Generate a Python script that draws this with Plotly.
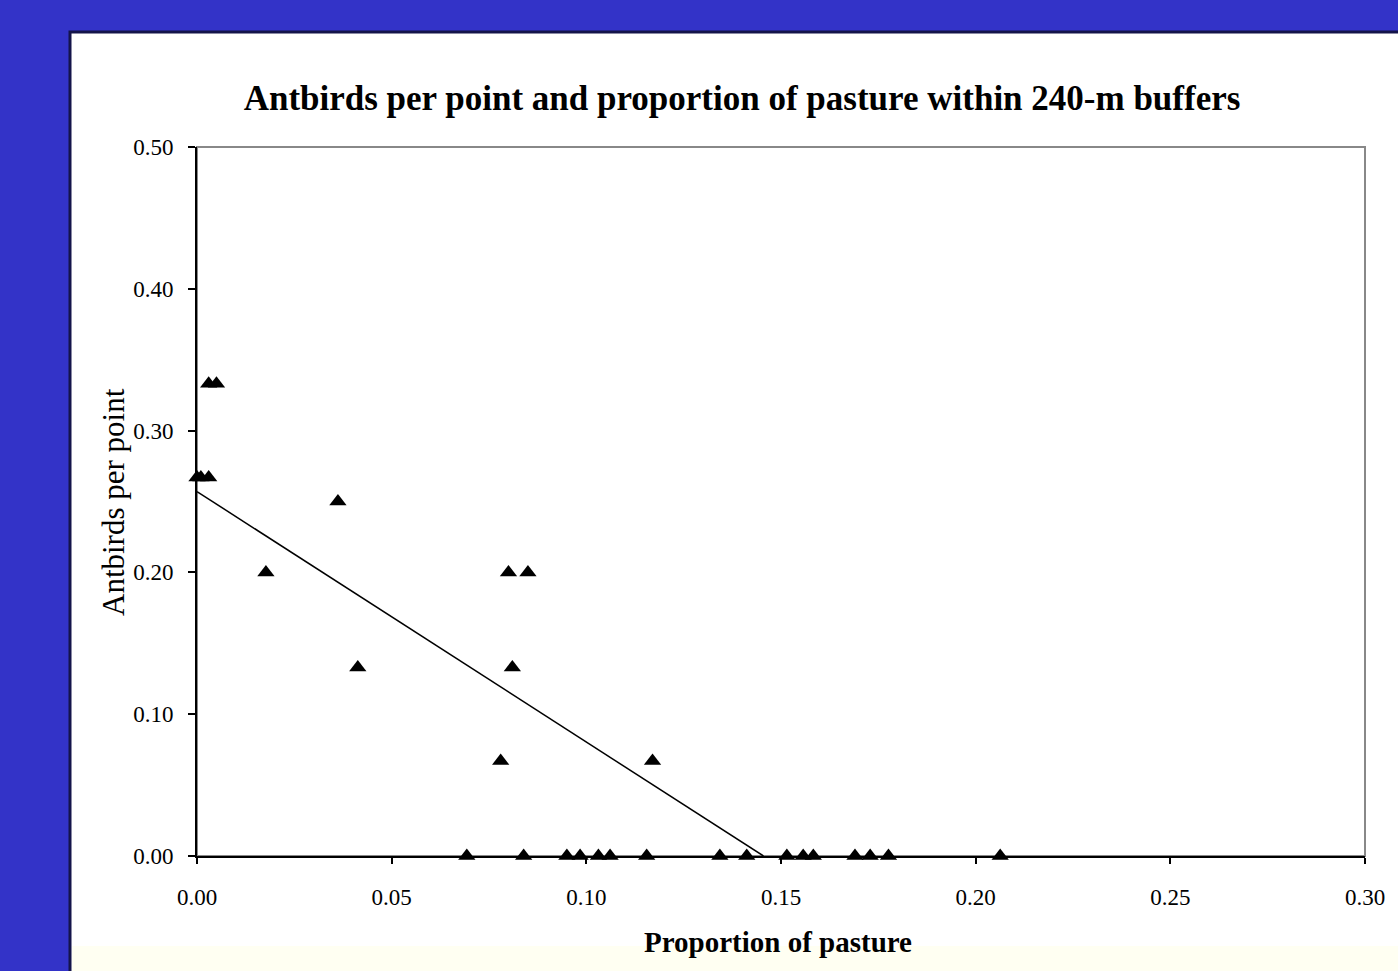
import plotly.graph_objects as go

# Data
x_vals = [0.000, 0.001, 0.003, 0.003, 0.005, 0.0177, 0.0362, 0.0413, 0.078, 0.080, 0.081, 0.085, 0.117,
          0.0693, 0.0839, 0.0950, 0.0984, 0.1031, 0.1061, 0.1155, 0.1343, 0.1412, 0.1515, 0.1557, 0.1583,
          0.1690, 0.1729, 0.1776, 0.2063]
y_vals = [0.267, 0.267, 0.267, 0.333, 0.333, 0.200, 0.250, 0.133, 0.067, 0.200, 0.133, 0.200, 0.067,
          0.0, 0.0, 0.0, 0.0, 0.0, 0.0, 0.0, 0.0, 0.0, 0.0, 0.0, 0.0,
          0.0, 0.0, 0.0, 0.0]
trend_x = [0.0, 0.1455]
trend_y = [0.257, 0.0]
x_ticks = [0.00, 0.05, 0.10, 0.15, 0.20, 0.25, 0.30]
y_ticks = [0.00, 0.10, 0.20, 0.30, 0.40, 0.50]

W, H = 1398, 971
ml, mr, mt, mb = 197, 33, 147, 115
pw, ph = W - ml - mr, H - mt - mb

def px2paper_x(px):
    return (px - ml) / pw

def px2paper_y(py):
    return (H - mb - py) / ph

serif = "Liberation Serif"
BLUE = "#3333c8"

fig = go.Figure()
fig.add_trace(go.Scatter(x=trend_x, y=trend_y, mode="lines",
                         line=dict(color="black", width=1.5), showlegend=False, hoverinfo="skip"))
fig.add_trace(go.Scatter(x=x_vals, y=y_vals, mode="markers",
                         marker=dict(symbol="triangle-up", size=15, color="black"),
                         showlegend=False, cliponaxis=False))

shapes = [
    # white panel
    dict(type="rect", xref="paper", yref="paper", layer="below",
         x0=px2paper_x(70), x1=px2paper_x(1410), y0=px2paper_y(990), y1=px2paper_y(32),
         fillcolor="white", line=dict(color="#14144a", width=3)),
    # light strip at bottom
    dict(type="rect", xref="paper", yref="paper", layer="below",
         x0=px2paper_x(72), x1=px2paper_x(1410), y0=px2paper_y(990), y1=px2paper_y(946),
         fillcolor="#fffff2", line=dict(width=0)),
    # gray plot border
    dict(type="rect", xref="paper", yref="paper", layer="below",
         x0=0, x1=1, y0=0, y1=1, fillcolor="rgba(0,0,0,0)", line=dict(color="#888888", width=2)),
]

annotations = [
    dict(text="<b>Proportion of pasture</b>", xref="paper", yref="paper",
         x=px2paper_x(778), y=px2paper_y(942), xanchor="center", yanchor="middle",
         showarrow=False, font=dict(family=serif, size=29, color="black")),
    dict(text="Antbirds per point", xref="paper", yref="paper", textangle=-90,
         x=px2paper_x(113), y=px2paper_y(502), xanchor="center", yanchor="middle",
         showarrow=False, font=dict(family=serif, size=31, color="black")),
]

fig.update_layout(
    width=W, height=H,
    margin=dict(l=ml, r=mr, t=mt, b=mb),
    paper_bgcolor=BLUE,
    plot_bgcolor="rgba(0,0,0,0)",
    shapes=shapes,
    annotations=annotations,
    title=dict(text="<b>Antbirds per point and proportion of pasture within 240-m buffers</b>",
               x=px2paper_x(742), xref="paper", xanchor="center",
               y=1 - 98 / H, yref="container", yanchor="middle",
               font=dict(family=serif, size=35, color="black")),
    xaxis=dict(range=[0, 0.30], tickvals=x_ticks, tickformat=".2f",
               showgrid=False, zeroline=False, showline=True, linecolor="black", linewidth=2,
               ticks="outside", ticklen=6, tickcolor="black", tickwidth=2,
               ticklabelstandoff=13,
               tickfont=dict(family=serif, size=23, color="black")),
    yaxis=dict(range=[0, 0.50], tickvals=y_ticks, tickformat=".2f",
               showgrid=False, zeroline=False, showline=True, linecolor="black", linewidth=2,
               ticks="outside", ticklen=7, tickcolor="black", tickwidth=2,
               ticklabelstandoff=10,
               tickfont=dict(family=serif, size=23, color="black")),
)

fig.write_html("out.html",
               config={"displayModeBar": False},
               post_script="document.body.style.margin='0';document.body.style.overflow='hidden';"
                           "document.body.style.background='" + BLUE + "';")
